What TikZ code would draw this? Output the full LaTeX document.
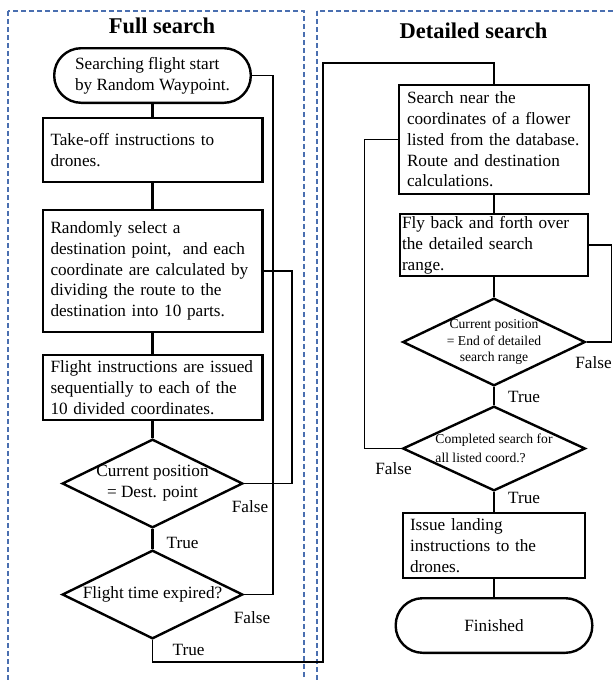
\documentclass[tikz,border=0pt]{standalone}
\usepackage{fontspec}
\setmainfont{Liberation Serif}
\usetikzlibrary{shapes.geometric, positioning}
\definecolor{frameblue}{RGB}{74,111,176}
\tikzset{
  proc/.style={rectangle, draw, line width=2.4pt, align=left,
               font=\fontsize{17.2}{20.8}\selectfont, inner ysep=1pt},
  wide/.style={text width=204pt, inner xsep=7.8pt},
  term/.style={proc, rounded corners=27pt, minimum width=196.6pt, minimum height=54.6pt},
  decide/.style={diamond, draw, line width=2.4pt, inner sep=-10pt, aspect=2, align=center,
                 minimum width=180.6pt, minimum height=88.6pt,
                 font=\fontsize{17.2}{20.8}\selectfont},
  small/.style={font=\fontsize{13.6}{16.5}\selectfont},
  lbl/.style={inner sep=0pt, font=\fontsize{17.2}{20.8}\selectfont},
  ttl/.style={font=\fontsize{22.5}{26}\selectfont\bfseries},
  flow/.style={line width=2.4pt},
  back/.style={line width=1.7pt},
  area/.style={draw=frameblue, line width=1.2pt, dash pattern=on 5pt off 3pt},
}
\begin{document}
\begin{tikzpicture}
  \useasboundingbox (0,0) rectangle (613pt,-680pt);
  % frames
  \draw[area] (8pt,-11pt) rectangle (304pt,-700pt);
  \draw[area] (317pt,-11pt) rectangle (660pt,-700pt);
  \node[ttl] (fulltitle) at (162pt,-25.5pt) {Full search};
  \node[ttl] (detailtitle) at (473.5pt,-30.5pt) {Detailed search};

  % full search
  \node[term] (start) at (152.5pt,-75.5pt) {Searching flight start\\by Random Waypoint.};
  \node[proc, wide, below=13pt of start, minimum height=63.6pt] (takeoff) {Take-off instructions to\\drones.};
  \node[proc, wide, below=26pt of takeoff, minimum height=121.6pt] (select) {Randomly select a\\destination point,~ and each\\coordinate are calculated by\\dividing the route to the\\destination into 10 parts.};
  \node[proc, wide, below=21pt of select, minimum height=64.6pt] (issue) {Flight instructions are issued\\sequentially to each of the\\10 divided coordinates.};
  \node[decide, below=17pt of issue] (arrive) {Current position\\= Dest. point};
  \node[decide, below=20pt of arrive] (timeout) {Flight time expired?};
  \coordinate (handoff) at (323pt,-63pt);

  % detailed search
  \node[proc, text width=174pt, inner xsep=7.8pt, minimum height=108.6pt] (near) at (494pt,-139.5pt) {Search near the\\coordinates of a flower\\listed from the database.\\Route and destination\\calculations.};
  \node[proc, below=18pt of near, text width=184pt, inner xsep=1.8pt, minimum height=61.6pt] (sweep) {Fly back and forth over\\the detailed search\\range.};
  \node[decide, small, below=20pt of sweep, minimum width=182.6pt, minimum height=87.6pt] (rangeend) {Current position\\= End of detailed\\search range};
  \node[decide, small, below=18pt of rangeend, align=left, minimum width=182.6pt, minimum height=84.6pt,
        font=\fontsize{13.6}{19}\selectfont] (alldone) {Completed search for\\all listed coord.?};
  \node[proc, below=20pt of alldone, text width=168pt, inner xsep=6.8pt, minimum height=64.6pt] (land) {Issue landing\\instructions to the\\drones.};
  \node[term, below=18pt of land, align=center] (finish) {Finished};

  % labels
  \node[lbl] (arriveno) at ([xshift=6pt,yshift=-23pt]arrive.east) {False};
  \node[lbl, anchor=west] (arriveyes) at ([xshift=14pt,yshift=-14pt]arrive.south) {True};
  \node[lbl] (timeno) at ([xshift=8pt,yshift=-23pt]timeout.east) {False};
  \node[lbl, anchor=west] (timeyes) at ([xshift=20pt,yshift=-10pt]timeout.south) {True};
  \node[lbl] (rangeno) at ([xshift=7pt,yshift=-21pt]rangeend.east) {False};
  \node[lbl, anchor=west] (rangeyes) at ([xshift=14pt,yshift=-10pt]rangeend.south) {True};
  \node[lbl] (doneno) at ([xshift=-8pt,yshift=-20pt]alldone.west) {False};
  \node[lbl, anchor=west] (doneyes) at ([xshift=14pt,yshift=-6pt]alldone.south) {True};

  \draw[flow] (start) -- (takeoff);
  \draw[flow] (takeoff) -- (select);
  \draw[flow] (select) -- (issue);
  \draw[flow] (issue) -- (arrive);
  \draw[flow] (arrive) -- (timeout);
  \draw[back] (arrive.east) -- ++(48pt,0) |- (select.east);
  \draw[back] (timeout.east) -- ++(29pt,0) |- (start.east);
  \draw[back] (timeout.south) -- ++(0,-22pt) -| (handoff) -| (near.north);

  \draw[flow] (near) -- (sweep);
  \draw[flow] (sweep) -- (rangeend);
  \draw[flow] (rangeend) -- (alldone);
  \draw[flow] (alldone) -- (land);
  \draw[flow] (land) -- (finish);
  \draw[back] (rangeend.east) -- ++(25pt,0) |- (sweep.east);
  \draw[back] (alldone.west) -- ++(-37pt,0) |- (near.west);
\end{tikzpicture}
\end{document}
